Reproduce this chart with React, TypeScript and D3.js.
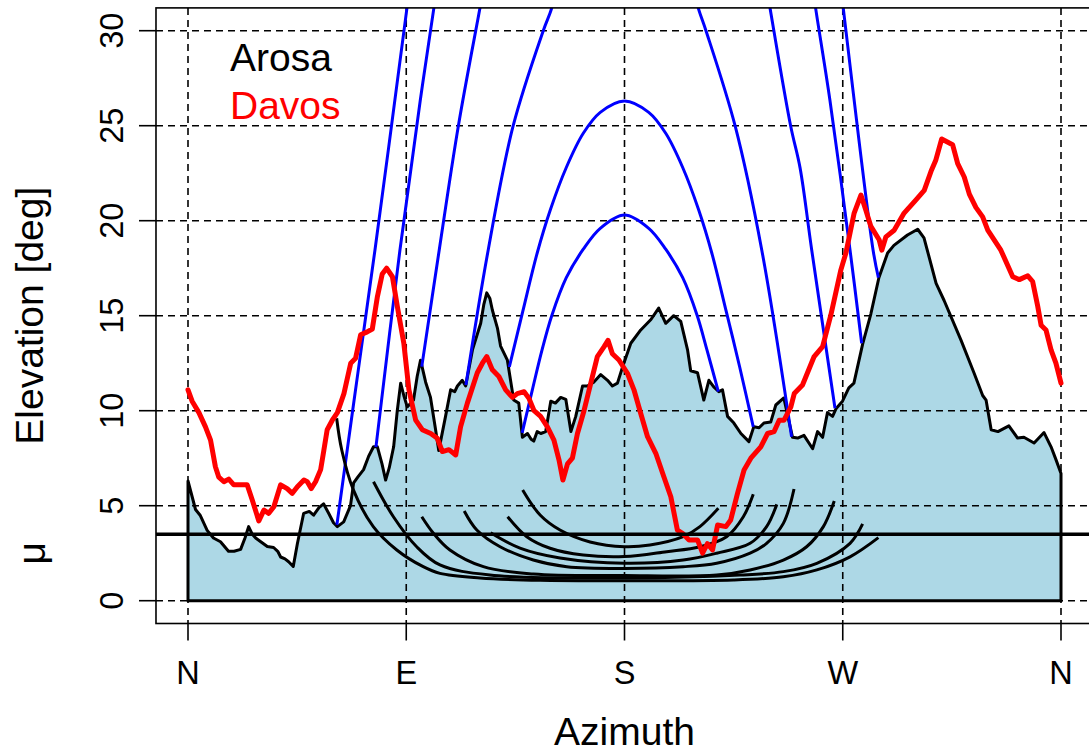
import React from 'react';
import * as d3 from 'd3';

const W = 1089;
const H = 752;

const azTicks = [0, 90, 180, 270, 360];
const azLabels = ['N', 'E', 'S', 'W', 'N'];
const elTicks = [0, 5, 10, 15, 20, 25, 30];
const mu = 3.5;

const arosa: [number, number][] = [
  [0, 6.3], [3.1, 4.8], [5, 4.5], [7.9, 3.7], [10.5, 3.3], [13.4, 3.1], [16.7, 2.6], [19, 2.6], [21.7, 2.7],
  [23.5, 3.3], [25.0, 3.9], [26.5, 3.5], [27.9, 3.3], [30, 3.1], [32.7, 2.85], [35.3, 2.8], [37, 2.6], [38.2, 2.3],
  [40, 2.2], [41.5, 2.05], [43.4, 1.8], [45.1, 3.0], [47.7, 4.6], [50, 4.7], [51.8, 4.5], [54, 4.9], [55.9, 5.1],
  [58.0, 4.6], [60, 4.1], [61.6, 3.9], [64.2, 4.15], [67.0, 5.0], [68.3, 6.2], [70, 6.5], [72.4, 6.9], [74.5, 7.6],
  [76.5, 8.1], [78.1, 8.1], [80, 7.2], [81.5, 6.35], [83, 7.0], [84.8, 8.1], [86.3, 10], [87.7, 11.45], [89, 10.8],
  [90.4, 10.2], [93.0, 10.56], [94.5, 11.8], [95.9, 12.66], [98, 11.5], [100.0, 10.7], [102.1, 9.0], [103.4, 7.9],
  [106.2, 9.7], [108.3, 11.1], [110, 11.0], [111.1, 11.3], [113.1, 11.6], [114.5, 11.3], [117.3, 13.2], [120.7, 14.6],
  [122, 15.6], [123.2, 16.2], [124.5, 15.9], [125.5, 15.3], [127.6, 14.35], [128.9, 13.4], [131.7, 12.66],
  [134.3, 10.56], [136.4, 10.4], [137.9, 8.6], [140.0, 8.8], [141.5, 8.5], [142.6, 8.4], [144, 8.9], [145.5, 8.8],
  [147.5, 8.9], [149.6, 10.5], [151.5, 10.4], [153.7, 10.7], [155.8, 10.6], [157.9, 8.9], [159.9, 9.7], [162.7, 11.3],
  [164.7, 11.3], [167.3, 11.5], [170.2, 11.9], [173.0, 11.6], [175.0, 11.3], [177.1, 11.45], [179.2, 12.3],
  [182.6, 13.55], [186.7, 14.25], [190.9, 14.8], [194.1, 15.4], [197.0, 14.6], [200.3, 15.0], [203.2, 14.7],
  [206.0, 13.2], [207.3, 12.1], [210.1, 12.0], [212.7, 10.56], [214.8, 11.6], [216.8, 11.25], [218.9, 11.0],
  [220.4, 11.1], [222.5, 9.7], [225.1, 9.35], [228.0, 8.8], [231.3, 8.37], [233.3, 9.15], [235.5, 9.1], [237.5, 9.35],
  [240.3, 9.4], [242.4, 10.3], [245.7, 10.67], [249.3, 8.6], [251.4, 8.56], [254.0, 8.7], [257.6, 8.0], [259.6, 8.9],
  [261.7, 8.6], [263.7, 9.9], [265.8, 9.7], [267.2, 10.1], [269.9, 10.5], [272.5, 11.2], [274.6, 11.45], [278.2, 13.5],
  [281.6, 15.1], [284.9, 17.0], [288.5, 18.3], [291.1, 18.7], [296.7, 19.25], [300.9, 19.55], [303.5, 19.1],
  [308.5, 16.7], [311.8, 15.8], [318.8, 13.7], [324.1, 12.0], [327.7, 10.8], [329.1, 10.56], [331.2, 9.0],
  [334.0, 8.9], [338.5, 9.2], [342.1, 8.56], [344.7, 8.6], [348.9, 8.3], [353.0, 8.85], [355.9, 8.1], [358, 7.4],
  [360, 6.7],
];

const davos: [number, number][] = [
  [0, 11.1], [1.7, 10.5], [4.5, 9.9], [7.2, 9.15], [9.3, 8.45], [11.3, 7.05], [12.7, 6.5], [14.8, 6.26], [16.8, 6.4],
  [18.9, 6.1], [24.4, 6.1], [26.5, 5.3], [29.2, 4.2], [31.3, 4.77], [33.3, 4.6], [35.4, 4.95], [38.2, 6.1],
  [40.9, 5.9], [43.0, 5.65], [45.1, 6.0], [47.8, 6.35], [49.2, 6.26], [50.8, 5.9], [52.6, 6.26], [54.7, 6.9],
  [56.0, 7.9], [57.4, 9.0], [59.5, 9.5], [61.6, 9.9], [64.3, 10.9], [67.1, 12.5], [69.1, 12.76], [71.2, 14.0],
  [73.9, 14.15], [76.0, 14.3], [78.1, 16.0], [80.1, 17.2], [81.9, 17.5], [84.3, 17.05], [86.3, 15.5], [89.0, 13.55],
  [91.1, 11.1], [93.9, 9.5], [96.6, 9.0], [100.1, 8.8], [102.8, 8.55], [104.9, 7.85], [107.6, 7.95], [110.4, 7.67],
  [112.4, 9.15], [115.2, 10.4], [119.3, 12.0], [121.4, 12.5], [123.2, 12.85], [125.5, 12.15], [128.2, 11.8],
  [131.0, 11.1], [133.8, 10.7], [135.8, 10.9], [138.6, 11.0], [140.6, 10.65], [142.7, 10.0], [145.4, 9.7],
  [148.2, 9.15], [150.9, 8.45], [153.0, 7.4], [154.6, 6.35], [156.5, 7.2], [158.5, 7.5], [160.6, 8.8], [163.3, 10.0],
  [166.1, 11.45], [168.8, 12.85], [171.6, 13.37], [173.2, 13.7], [175.0, 13.0], [177.7, 12.67], [181.2, 11.97],
  [183.9, 11.1], [186.7, 9.85], [189.5, 8.63], [192.9, 7.76], [196.3, 6.5], [199.1, 5.47], [201.8, 3.72],
  [203.9, 3.55], [206.6, 3.2], [210.1, 3.2], [212.2, 2.5], [214.2, 3.0], [216.3, 2.67], [218.4, 3.98], [221.8, 3.9],
  [223.8, 4.25], [226.6, 5.65], [229.3, 6.88], [232.1, 7.5], [236.2, 8.1], [239.0, 8.8], [241.7, 8.9], [243.8, 9.5],
  [245.8, 9.5], [248.6, 10.2], [250.0, 10.9], [253.4, 11.35], [258.2, 12.85], [261.7, 13.37], [265.1, 15.04],
  [269.2, 17.4], [271.3, 18.3], [274.7, 20.4], [277.5, 21.35], [279.5, 20.56], [281.6, 19.7], [285.0, 19.0],
  [286.1, 18.45], [287.8, 19.15], [291.2, 19.5], [295.3, 20.4], [300.2, 21.1], [303.6, 21.6], [306.4, 22.6],
  [308.4, 23.2], [310.8, 24.3], [315.3, 24.0], [317.4, 23.0], [320.1, 22.3], [322.2, 21.4], [324.9, 20.7],
  [327.7, 20.2], [329.8, 19.5], [335.2, 18.45], [340.1, 17.05], [342.8, 16.9], [346.3, 17.1], [348.3, 16.8],
  [350.4, 15.5], [351.8, 14.5], [353.8, 14.25], [355.9, 13.2], [357.9, 12.5], [360, 11.45],
];

// blue sun paths (visible above the Arosa horizon)
const blue1L: [number, number][] = [[61.4, 4.0], [68.5, 10.56], [77.1, 18.46], [90.3, 31.2], [91.5, 32.4]];
const blue1R: [number, number][] = [[269.1, 32.4], [270.2, 31.2], [282.5, 18.46], [284.7, 17.0]];
const blue2L: [number, number][] = [[77.5, 8.08], [87.4, 18.46], [95.8, 26.35], [101.4, 31.2], [102.7, 32.4]];
const blue2R: [number, number][] = [[257.5, 32.4], [258.8, 31.2], [264.7, 26.35], [273.0, 18.46], [277.8, 13.55]];
const blue3L: [number, number][] = [[96.4, 12.32], [103.6, 18.46], [111.5, 25], [120.4, 31.2], [122.1, 32.4]];
const blue3R: [number, number][] = [[238.4, 32.4], [240.0, 31.2], [248.5, 25], [252.4, 22.78], [257.2, 18.46], [266.8, 10.13]];
const blue4L: [number, number][] = [[114.6, 11.35], [123.8, 18.46], [134.1, 25], [146.5, 30], [150.0, 31.2], [151.8, 32.4]];
const blue4R: [number, number][] = [[208.2, 32.4], [210.4, 31.2], [213.6, 30], [225.6, 25], [236.6, 18.46], [248.9, 8.63]];
const blue5: [number, number][] = [
  [132.5, 12.3], [138.0, 15.2], [144.0, 18.3], [149.5, 20.6], [156, 22.8], [163, 24.6], [170, 25.7], [180, 26.3],
  [190, 25.7], [197, 24.6], [204, 22.8], [210.5, 20.6], [216, 18.3], [222, 15.2], [227.5, 12.3], [233.1, 9.15],
];
const blue6: [number, number][] = [
  [137.8, 8.83], [142, 11.1], [146, 13.2], [150, 15.0], [156, 17.0], [163, 18.5], [170, 19.6], [180, 20.3],
  [190, 19.6], [197, 18.5], [204, 17.0], [210, 15.0], [214, 13.2], [218.7, 11.0],
];

// black (winter) paths
const black1: [number, number][] = [
  [61.3, 9.6], [63.4, 7.93], [68.2, 5.83], [76.4, 3.9], [86.1, 2.67], [97.0, 1.79], [103.9, 1.44], [120.4, 1.2],
  [145.2, 1.07], [180, 1.05], [224.9, 1.09], [245.5, 1.26], [259.3, 1.62], [273.0, 2.31], [284.7, 3.32],
];
const black2: [number, number][] = [
  [76.5, 6.26], [84.7, 4.42], [94.3, 2.84], [103.9, 1.88], [124.5, 1.35], [180, 1.2], [227.6, 1.35], [245.5, 1.53],
  [259.3, 1.97], [273.0, 3.02], [278.2, 4.04],
];
const black3: [number, number][] = [
  [96.4, 4.42], [101.2, 3.55], [108.0, 2.67], [121.8, 1.79], [142.4, 1.4], [180, 1.32], [218.0, 1.35], [231.8, 1.62],
  [245.5, 2.14], [255.1, 2.84], [262.0, 3.9], [266.5, 5.25],
];
const black4: [number, number][] = [
  [113.9, 4.72], [119.1, 3.72], [128.7, 2.84], [142.4, 2.14], [156.2, 1.79], [180, 1.7], [204.2, 1.79], [218.0, 1.97],
  [231.8, 2.5], [238.6, 3.02], [245.5, 4.07], [249.9, 5.88],
];
const black5: [number, number][] = [
  [124.8, 3.58], [136.9, 2.77], [153.4, 2.25], [180, 1.97], [204.2, 2.14], [218.0, 2.5], [231.8, 3.02], [238.6, 3.9],
  [242.8, 5.07],
];
const black6: [number, number][] = [
  [131.8, 4.42], [139.7, 3.37], [149.3, 2.76], [163.0, 2.4], [180, 2.32], [197.4, 2.58], [211.1, 2.84], [222.1, 3.37],
  [229.0, 4.42], [233.1, 5.6],
];
const black7: [number, number][] = [
  [138.0, 5.83], [145.2, 4.51], [153.4, 3.72], [165.8, 3.09], [180, 2.84], [190.5, 2.93], [204.2, 3.37], [211.1, 3.9],
  [218.7, 4.86],
];

const bluePaths = [blue1L, blue1R, blue2L, blue2R, blue3L, blue3R, blue4L, blue4R, blue5, blue6];
const blackPaths = [black1, black2, black3, black4, black5, black6, black7];

export default function App() {
  const x = d3.scaleLinear().domain([0, 360]).range([188, 1061]);
  const y = d3.scaleLinear().domain([0, 30]).range([600.7, 30.7]);
  const bx0 = x(-13.2);
  const bx1 = x(373.2);
  const by0 = y(31.2);
  const by1 = y(-1.2);

  const line = d3.line<[number, number]>().x((d) => x(d[0])).y((d) => y(d[1]));
  const smooth = d3
    .line<[number, number]>()
    .x((d) => x(d[0]))
    .y((d) => y(d[1]))
    .curve(d3.curveCatmullRom.alpha(0.5));

  const poly: [number, number][] = [[0, 0], ...arosa, [360, 0]];
  const area = line(poly) + 'Z';
  const font = 'Liberation Sans, Arial, Helvetica, sans-serif';
  const dash = '7,5';

  return (
    <svg
      width={W}
      height={H}
      style={{ position: 'absolute', left: 0, top: 0, background: '#fff' }}
      fontFamily={font}
    >
      <defs>
        <clipPath id="plotclip">
          <rect x={bx0} y={by0} width={bx1 - bx0} height={by1 - by0} />
        </clipPath>
      </defs>
      <rect x={0} y={0} width={W} height={H} fill="#fff" />
      <g clipPath="url(#plotclip)">
        <path d={area} fill="#ADD8E6" stroke="none" />
        {elTicks.map((t) => (
          <line key={'h' + t} x1={bx0} x2={bx1} y1={y(t)} y2={y(t)} stroke="#000" strokeWidth={1.6} strokeDasharray={dash} />
        ))}
        {azTicks.map((t, i) => (
          <line key={'v' + i} x1={x(t)} x2={x(t)} y1={by0} y2={by1} stroke="#000" strokeWidth={1.6} strokeDasharray={dash} />
        ))}
        <path d={area} fill="none" stroke="#000" strokeWidth={3} strokeLinejoin="round" />
        {bluePaths.map((p, i) => (
          <path key={'b' + i} d={smooth(p) || ''} fill="none" stroke="#0000FF" strokeWidth={3} />
        ))}
        {blackPaths.map((p, i) => (
          <path key={'k' + i} d={smooth(p) || ''} fill="none" stroke="#000" strokeWidth={3} />
        ))}
        <path d={line(davos) || ''} fill="none" stroke="#FF0000" strokeWidth={5} strokeLinejoin="round" strokeLinecap="round" />
        <line x1={bx0} x2={bx1} y1={y(mu)} y2={y(mu)} stroke="#000" strokeWidth={3.5} />
      </g>
      <rect x={bx0} y={by0} width={bx1 - bx0} height={by1 - by0} fill="none" stroke="#000" strokeWidth={1.6} />
      {azTicks.map((t, i) => (
        <g key={'xt' + i}>
          <line x1={x(t)} x2={x(t)} y1={by1} y2={by1 + 17} stroke="#000" strokeWidth={1.6} />
          <text x={x(t)} y={684} fontSize={32.5} textAnchor="middle">
            {azLabels[i]}
          </text>
        </g>
      ))}
      {elTicks.map((t) => (
        <g key={'yt' + t}>
          <line x1={bx0 - 17} x2={bx0} y1={y(t)} y2={y(t)} stroke="#000" strokeWidth={1.6} />
          <text transform={`translate(123,${y(t)}) rotate(-90)`} fontSize={32.5} textAnchor="middle">
            {t}
          </text>
        </g>
      ))}
      <text x={(bx0 + bx1) / 2} y={745} fontSize={39} textAnchor="middle">
        Azimuth
      </text>
      <text transform={`translate(43,${(by0 + by1) / 2}) rotate(-90)`} fontSize={39} textAnchor="middle">
        Elevation [deg]
      </text>
      <text transform={`translate(45,${y(mu) + 19}) rotate(-90)`} fontSize={39} textAnchor="middle">
        μ
      </text>
      <text x={230} y={71} fontSize={39} fill="#000">
        Arosa
      </text>
      <text x={230} y={119} fontSize={39} fill="#FF0000">
        Davos
      </text>
    </svg>
  );
}
